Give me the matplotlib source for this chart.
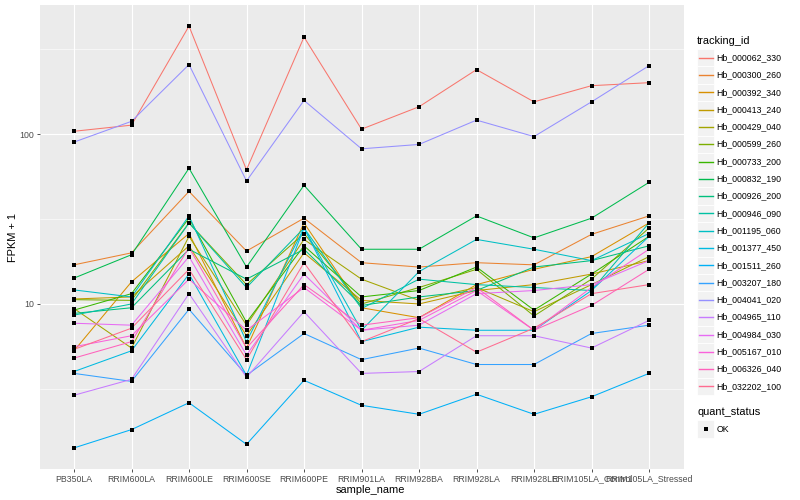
import numpy as np
import matplotlib
matplotlib.use("Agg")
import matplotlib.pyplot as plt
from matplotlib.lines import Line2D
from matplotlib.patches import Rectangle

samples = ["PB350LA", "RRIM600LA", "RRIM600LE", "RRIM600SE", "RRIM600PE", "RRIM901LA",
           "RRIM928BA", "RRIM928LA", "RRIM928LE", "RRIM105LA_Control", "RRIM105LA_Stressed"]

tracking_ids = ["Hb_000062_330", "Hb_000300_260", "Hb_000392_340", "Hb_000413_240",
                "Hb_000429_040", "Hb_000599_260", "Hb_000733_200", "Hb_000832_190",
                "Hb_000926_200", "Hb_000946_090", "Hb_001195_060", "Hb_001377_450",
                "Hb_001511_260", "Hb_003207_180", "Hb_004041_020", "Hb_004965_110",
                "Hb_004984_030", "Hb_005167_010", "Hb_006326_040", "Hb_032202_100"]

colors = ["#F8766D", "#EA8331", "#D89000", "#C09B00", "#A3A500", "#7CAE00", "#39B600",
          "#00BB4E", "#00BF7D", "#00C1A3", "#00BFC4", "#00BAE0", "#00B0F6", "#35A2FF",
          "#9590FF", "#C77CFF", "#E76BF3", "#FA62DB", "#FF62BC", "#FF6C91"]

Hb_000062_330 = [104, 113, 433, 61.7, 373, 107, 145, 240, 155, 193, 201]
Hb_000300_260 = [17, 20, 46, 20.5, 32, 17.5, 16.5, 17.5, 17, 25.7, 33]
Hb_000392_340 = [5.3, 13.5, 26, 5.5, 30, 9.5, 8.3, 13, 16, 19, 30]
Hb_000413_240 = [10.7, 11, 22, 6.5, 20, 10.5, 10, 12, 13, 15, 18]
Hb_000429_040 = [9.4, 5.5, 25, 7.5, 24, 14, 10.5, 12.5, 9, 13, 19]
Hb_000599_260 = [10.6, 10.5, 30, 13, 26, 10, 12.5, 16, 8.5, 14, 28]
Hb_000733_200 = [9.2, 11.5, 32, 7.8, 22, 11, 12, 16.5, 9.2, 15, 25]
Hb_000832_190 = [14.2, 19.5, 63, 16.5, 50, 21, 21, 33, 24.5, 32, 52]
Hb_000926_200 = [8.8, 9.5, 21, 14, 21, 9.8, 11, 12, 16.5, 18, 22]
Hb_000946_090 = [8.6, 10, 30, 12.5, 28, 9.4, 14, 13, 12.5, 12, 30]
Hb_001195_060 = [12.1, 11, 33, 6, 28, 7, 15.5, 24, 21, 18, 26]
Hb_001377_450 = [4.0, 5.3, 15, 3.8, 28, 6, 7.3, 7, 7, 12, 25]
Hb_001511_260 = [1.42, 1.82, 2.62, 1.49, 3.55, 2.53, 2.24, 2.94, 2.24, 2.84, 3.9]
Hb_003207_180 = [3.9, 3.5, 9.3, 3.8, 6.7, 4.7, 5.5, 4.4, 4.4, 6.7, 7.5]
Hb_004041_020 = [89.8, 119, 257, 53, 158, 82, 87, 121, 96.8, 155, 253]
Hb_004965_110 = [2.9, 3.6, 11.5, 3.7, 9, 3.9, 4.0, 6.5, 6.5, 5.5, 8]
Hb_004984_030 = [7.7, 7.5, 19, 5, 15, 7, 7.5, 11.5, 12, 13, 18]
Hb_005167_010 = [5.6, 6.5, 14, 7, 12.5, 7, 8, 12, 7, 12.5, 21]
Hb_006326_040 = [4.8, 6, 21.5, 5.5, 13, 7.5, 8.3, 12.5, 7, 9.8, 16]
Hb_032202_100 = [5.4, 7.2, 16, 4.7, 17.5, 6, 8.2, 5.2, 7.2, 11.5, 13]

series = [Hb_000062_330, Hb_000300_260, Hb_000392_340, Hb_000413_240, Hb_000429_040,
          Hb_000599_260, Hb_000733_200, Hb_000832_190, Hb_000926_200, Hb_000946_090,
          Hb_001195_060, Hb_001377_450, Hb_001511_260, Hb_003207_180, Hb_004041_020,
          Hb_004965_110, Hb_004984_030, Hb_005167_010, Hb_006326_040, Hb_032202_100]

FONT = ["Liberation Sans", "DejaVu Sans"]
plt.rcParams["font.family"] = FONT

W, H = 800, 500
fig = plt.figure(figsize=(8, 5), dpi=100)
fig.patch.set_facecolor("white")

def fx(px):
    return px / W

def fy(py):
    return 1 - py / H

ax = fig.add_axes([fx(39.5), fy(469), fx(683.5 - 39.5), (469 - 5) / H])
ax.set_facecolor("#EBEBEB")
for s in ax.spines.values():
    s.set_visible(False)

x = np.arange(len(samples))
ax.set_yscale("log")

allv = np.log10(np.concatenate([np.asarray(s, float) for s in series]))
lo, hi = allv.min(), allv.max()
pad = 0.05 * (hi - lo)
ax.set_ylim(10 ** (lo - pad), 10 ** (hi + pad))
ax.set_xlim(-0.6, len(samples) - 1 + 0.6)

# grid
for m in [10 ** 0.5, 10 ** 1.5, 10 ** 2.5]:
    ax.axhline(m, color="white", lw=0.4, zorder=0.5)
for m in [10, 100]:
    ax.axhline(m, color="white", lw=0.8, zorder=0.6)
for xi in x:
    ax.axvline(xi, color="white", lw=0.8, zorder=0.6)

for vals, c in zip(series, colors):
    ax.plot(x, vals, color=c, lw=0.75, zorder=2, solid_capstyle="butt")
for vals in series:
    ax.plot(x, vals, ls="none", marker="s", ms=2.6, color="black", mew=0, zorder=3)

ax.set_yticks([10, 100])
ax.set_yticklabels(["10", "100"])
ax.yaxis.set_minor_locator(matplotlib.ticker.NullLocator())
ax.set_xticks(x)
ax.set_xticklabels(samples)
ax.tick_params(axis="both", which="major", length=2.5, width=0.6, color="#333333",
               labelsize=6.3, labelcolor="#4D4D4D", pad=1.5)

fig.text(fx(370), fy(490), "sample_name", ha="center", va="center", fontsize=7.9, color="black")
fig.text(fx(13), fy(237), "FPKM + 1", ha="center", va="center", rotation=90, fontsize=7.9,
         color="black")

# legend
key_x0, key_w = 697, 17.3
fig.text(fx(697), fy(40.5), "tracking_id", ha="left", va="center", fontsize=7.9)
y0 = 57.7
step = 17.3
for i, (tid, c) in enumerate(zip(tracking_ids, colors)):
    yc = y0 + i * step
    fig.patches.append(Rectangle((fx(key_x0), fy(yc + step / 2)), fx(key_w), step / H,
                                 transform=fig.transFigure, facecolor="#F2F2F2",
                                 edgecolor="white", lw=0.6))
    fig.lines.append(Line2D([fx(key_x0 + 1.7), fx(key_x0 + key_w - 1.7)], [fy(yc), fy(yc)],
                            transform=fig.transFigure, color=c, lw=1.0))
    fig.text(fx(716.5), fy(yc), tid, ha="left", va="center", fontsize=6.3, color="black")

fig.text(fx(697), fy(412), "quant_status", ha="left", va="center", fontsize=7.9)
fig.patches.append(Rectangle((fx(key_x0), fy(429 + step / 2)), fx(key_w), step / H,
                             transform=fig.transFigure, facecolor="#F2F2F2",
                             edgecolor="white", lw=0.6))
fig.lines.append(Line2D([fx(key_x0 + key_w / 2)], [fy(429)], transform=fig.transFigure,
                        ls="none", marker="s", ms=2.6, color="black", mew=0))
fig.text(fx(716.5), fy(429), "OK", ha="left", va="center", fontsize=6.3, color="black")

fig.savefig("out.png", dpi=100, facecolor="white")
